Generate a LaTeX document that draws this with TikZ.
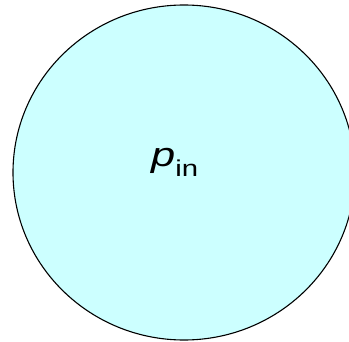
\documentclass[tikz,border=0pt]{standalone}
\usepackage{fontspec}
\setmainfont{Liberation Sans}
\usepackage{xcolor}
\usepackage{tikz}
\usetikzlibrary{shapes.geometric}
\definecolor{pale}{HTML}{CCFFFF}
\tikzset{
  vol/.style={ellipse,draw=black,fill=pale,line width=1.1pt,minimum width=342bp,minimum height=335bp,inner sep=0pt},
  lab/.style={inner sep=0pt}
}
\newcommand{\pin}{\scalebox{1.28}[1]{\fontsize{34}{36}\selectfont\textit{p}\raisebox{-0.3em}{\fontsize{23}{26}\selectfont in}}}
\begin{document}
\begin{tikzpicture}[x=1bp,y=1bp]
\useasboundingbox (0,0) rectangle (349,342);
\clip (0,0) rectangle (349,342);
\node[vol] (region) at (184,169.5) {};
\node[lab,anchor=base west] (press) at (151,176) {\pin};
\end{tikzpicture}
\end{document}
